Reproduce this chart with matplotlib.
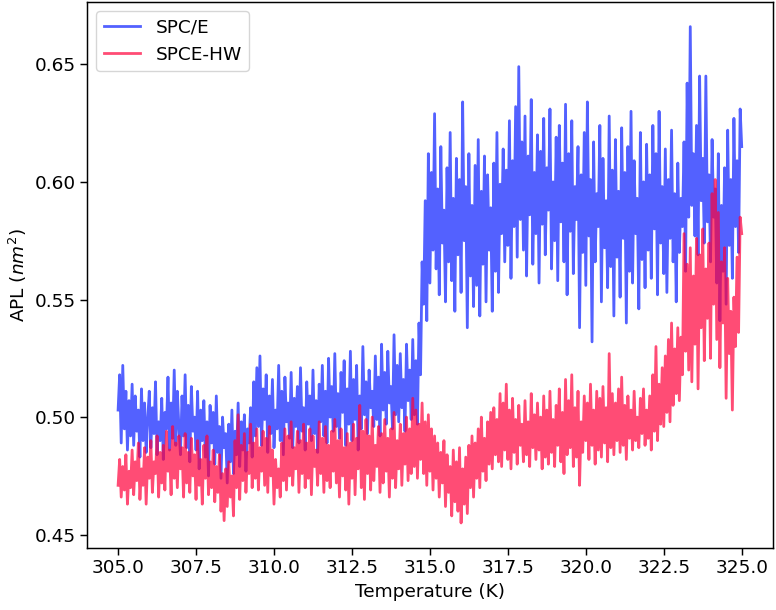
import numpy as np
import matplotlib.pyplot as plt

# temperature grid, 0.05 K steps
temperature = np.round(np.linspace(305.0, 325.0, 401), 2)

spce = [
    0.503, 0.518, 0.489, 0.522, 0.495, 0.511, 0.486, 0.507, 0.492, 0.514,
    0.488, 0.509, 0.494, 0.503, 0.483, 0.512, 0.490, 0.506, 0.485, 0.499,
    0.511, 0.487, 0.504, 0.493, 0.515, 0.484, 0.498, 0.490, 0.508, 0.482,
    0.502, 0.495, 0.517, 0.486, 0.506, 0.491, 0.520, 0.488, 0.511, 0.496,
    0.484, 0.509, 0.492, 0.518, 0.487, 0.505, 0.481, 0.513, 0.494, 0.500,
    0.486, 0.511, 0.478, 0.503, 0.490, 0.507, 0.483, 0.498, 0.475, 0.505,
    0.489, 0.502, 0.480, 0.509, 0.485, 0.496, 0.474, 0.500, 0.487, 0.493,
    0.472, 0.497, 0.481, 0.503, 0.476, 0.494, 0.484, 0.506, 0.479, 0.498,
    0.486, 0.501, 0.477, 0.495, 0.489, 0.504, 0.483, 0.515, 0.492, 0.521,
    0.496, 0.526, 0.488, 0.512, 0.499, 0.518, 0.485, 0.509, 0.493, 0.516,
    0.487, 0.503, 0.495, 0.522, 0.490, 0.511, 0.484, 0.517, 0.498, 0.506,
    0.491, 0.519, 0.487, 0.508, 0.496, 0.513, 0.489, 0.521, 0.494, 0.504,
    0.486, 0.515, 0.497, 0.509, 0.490, 0.520, 0.493, 0.507, 0.485, 0.514,
    0.498, 0.522, 0.492, 0.511, 0.489, 0.525, 0.500, 0.513, 0.494, 0.527,
    0.496, 0.510, 0.491, 0.519, 0.502, 0.524, 0.488, 0.512, 0.497, 0.528,
    0.490, 0.516, 0.499, 0.522, 0.486, 0.509, 0.495, 0.530, 0.501, 0.515,
    0.493, 0.520, 0.504, 0.511, 0.496, 0.526, 0.499, 0.517, 0.492, 0.531,
    0.503, 0.519, 0.497, 0.528, 0.506, 0.513, 0.495, 0.535, 0.501, 0.522,
    0.498, 0.527, 0.504, 0.516, 0.494, 0.531, 0.507, 0.520, 0.499, 0.533,
    0.501, 0.524, 0.497, 0.540, 0.518, 0.566, 0.548, 0.592, 0.541, 0.612,
    0.557, 0.604, 0.571, 0.629, 0.563, 0.597, 0.552, 0.615, 0.574, 0.588,
    0.549, 0.606, 0.566, 0.621, 0.558, 0.593, 0.545, 0.610, 0.569, 0.601,
    0.553, 0.634, 0.575, 0.598, 0.538, 0.612, 0.560, 0.590, 0.547, 0.607,
    0.556, 0.618, 0.543, 0.596, 0.565, 0.611, 0.549, 0.603, 0.571, 0.589,
    0.545, 0.608, 0.562, 0.621, 0.553, 0.599, 0.578, 0.614, 0.566, 0.605,
    0.573, 0.626, 0.559, 0.609, 0.581, 0.632, 0.568, 0.649, 0.584, 0.617,
    0.571, 0.628, 0.560, 0.611, 0.586, 0.635, 0.565, 0.604, 0.578, 0.620,
    0.557, 0.613, 0.582, 0.627, 0.569, 0.606, 0.588, 0.631, 0.563, 0.600,
    0.575, 0.619, 0.558, 0.624, 0.583, 0.608, 0.566, 0.633, 0.552, 0.612,
    0.579, 0.626, 0.561, 0.598, 0.584, 0.615, 0.538, 0.603, 0.570, 0.621,
    0.556, 0.634, 0.577, 0.601, 0.532, 0.617, 0.566, 0.595, 0.581, 0.624,
    0.549, 0.610, 0.572, 0.592, 0.555, 0.628, 0.564, 0.605, 0.543, 0.618,
    0.568, 0.596, 0.551, 0.623, 0.576, 0.604, 0.540, 0.615, 0.562, 0.630,
    0.557, 0.609, 0.578, 0.593, 0.546, 0.621, 0.567, 0.600, 0.555, 0.616,
    0.571, 0.603, 0.559, 0.624, 0.580, 0.612, 0.552, 0.630, 0.574, 0.598,
    0.561, 0.614, 0.553, 0.601, 0.576, 0.622, 0.566, 0.595, 0.549, 0.608,
    0.570, 0.593, 0.581, 0.617, 0.562, 0.642, 0.585, 0.666, 0.590, 0.612,
    0.577, 0.624, 0.569, 0.645, 0.592, 0.610, 0.574, 0.645, 0.583, 0.603,
    0.566, 0.618, 0.585, 0.597, 0.557, 0.612, 0.541, 0.590, 0.562, 0.606,
    0.548, 0.622, 0.573, 0.601, 0.559, 0.627, 0.581, 0.609, 0.570, 0.631,
    0.615,
]

spce_hw = [
    0.471, 0.482, 0.466, 0.479, 0.469, 0.484, 0.463, 0.477, 0.470, 0.486,
    0.467, 0.481, 0.473, 0.489, 0.465, 0.478, 0.471, 0.487, 0.463, 0.483,
    0.474, 0.490, 0.468, 0.481, 0.476, 0.492, 0.466, 0.485, 0.472, 0.488,
    0.469, 0.494, 0.477, 0.486, 0.467, 0.496, 0.474, 0.489, 0.470, 0.492,
    0.478, 0.487, 0.466, 0.493, 0.472, 0.485, 0.468, 0.491, 0.475, 0.484,
    0.465, 0.490, 0.471, 0.482, 0.463, 0.488, 0.474, 0.492, 0.467, 0.481,
    0.470, 0.486, 0.464, 0.479, 0.468, 0.484, 0.460, 0.476, 0.456, 0.478,
    0.462, 0.481, 0.466, 0.475, 0.458, 0.490, 0.470, 0.501, 0.465, 0.488,
    0.473, 0.493, 0.468, 0.485, 0.476, 0.497, 0.470, 0.489, 0.474, 0.495,
    0.469, 0.487, 0.477, 0.494, 0.471, 0.491, 0.468, 0.496, 0.475, 0.486,
    0.463, 0.482, 0.470, 0.478, 0.466, 0.489, 0.473, 0.495, 0.469, 0.492,
    0.475, 0.498, 0.471, 0.487, 0.478, 0.494, 0.468, 0.490, 0.476, 0.497,
    0.470, 0.489, 0.474, 0.495, 0.467, 0.492, 0.479, 0.486, 0.471, 0.498,
    0.476, 0.491, 0.468, 0.496, 0.473, 0.488, 0.470, 0.494, 0.477, 0.499,
    0.472, 0.490, 0.466, 0.495, 0.475, 0.487, 0.469, 0.493, 0.463, 0.489,
    0.474, 0.497, 0.467, 0.491, 0.478, 0.505, 0.470, 0.494, 0.465, 0.499,
    0.476, 0.492, 0.469, 0.500, 0.473, 0.488, 0.479, 0.496, 0.468, 0.493,
    0.472, 0.499, 0.477, 0.491, 0.466, 0.495, 0.474, 0.502, 0.470, 0.490,
    0.478, 0.497, 0.471, 0.493, 0.480, 0.500, 0.473, 0.495, 0.476, 0.508,
    0.479, 0.503, 0.474, 0.497, 0.482, 0.506, 0.476, 0.498, 0.471, 0.501,
    0.477, 0.495, 0.469, 0.492, 0.474, 0.489, 0.466, 0.485, 0.472, 0.490,
    0.462, 0.484, 0.468, 0.479, 0.458, 0.486, 0.464, 0.481, 0.460, 0.487,
    0.455, 0.478, 0.463, 0.483, 0.459, 0.488, 0.470, 0.492, 0.466, 0.489,
    0.474, 0.495, 0.470, 0.500, 0.477, 0.491, 0.473, 0.498, 0.480, 0.502,
    0.478, 0.504, 0.484, 0.499, 0.481, 0.510, 0.479, 0.506, 0.486, 0.514,
    0.482, 0.503, 0.478, 0.508, 0.485, 0.499, 0.480, 0.505, 0.488, 0.497,
    0.481, 0.507, 0.484, 0.498, 0.479, 0.510, 0.487, 0.501, 0.482, 0.506,
    0.486, 0.500, 0.478, 0.509, 0.483, 0.503, 0.480, 0.511, 0.485, 0.499,
    0.479, 0.505, 0.488, 0.512, 0.481, 0.502, 0.476, 0.516, 0.484, 0.507,
    0.487, 0.518, 0.479, 0.504, 0.483, 0.511, 0.471, 0.498, 0.485, 0.509,
    0.490, 0.506, 0.482, 0.514, 0.488, 0.503, 0.480, 0.511, 0.486, 0.508,
    0.483, 0.513, 0.489, 0.504, 0.481, 0.527, 0.487, 0.510, 0.484, 0.506,
    0.490, 0.512, 0.485, 0.517, 0.488, 0.505, 0.482, 0.509, 0.491, 0.503,
    0.486, 0.511, 0.490, 0.500, 0.487, 0.508, 0.493, 0.512, 0.488, 0.503,
    0.491, 0.509, 0.486, 0.518, 0.494, 0.530, 0.490, 0.514, 0.497, 0.521,
    0.496, 0.526, 0.502, 0.533, 0.498, 0.540, 0.505, 0.529, 0.510, 0.538,
    0.507, 0.534, 0.518, 0.578, 0.528, 0.565, 0.520, 0.572, 0.515, 0.560,
    0.531, 0.576, 0.512, 0.569, 0.538, 0.580, 0.524, 0.563, 0.542, 0.574,
    0.525, 0.595, 0.548, 0.601, 0.533, 0.587, 0.521, 0.566, 0.540, 0.572,
    0.508, 0.559, 0.527, 0.545, 0.503, 0.551, 0.530, 0.568, 0.536, 0.585,
    0.578,
]

xticks = [305.0, 307.5, 310.0, 312.5, 315.0, 317.5, 320.0, 322.5, 325.0]
yticks = [0.45, 0.50, 0.55, 0.60, 0.65]

fs = 13.3
fig = plt.figure(figsize=(7.76, 6.10), dpi=100)
ax = fig.add_axes([0.112, 0.102, 0.884, 0.895])

ax.plot(temperature, spce, color='#0a1eff', alpha=0.7, lw=2.0, label='SPC/E')
ax.plot(temperature, spce_hw, color='#ff003a', alpha=0.7, lw=2.0, label='SPCE-HW')

ax.set_xlabel('Temperature (K)', fontsize=fs)
ax.set_ylabel('APL ($nm^2$)', fontsize=fs)
ax.set_xticks(xticks)
ax.set_xticklabels([f'{t:.1f}' for t in xticks])
ax.set_yticks(yticks)
ax.tick_params(labelsize=fs, length=4.7, width=1.06)
for s in ax.spines.values():
    s.set_linewidth(1.06)
leg = ax.legend(loc='upper left', fontsize=fs)

fig.savefig('out.png', dpi=100)
